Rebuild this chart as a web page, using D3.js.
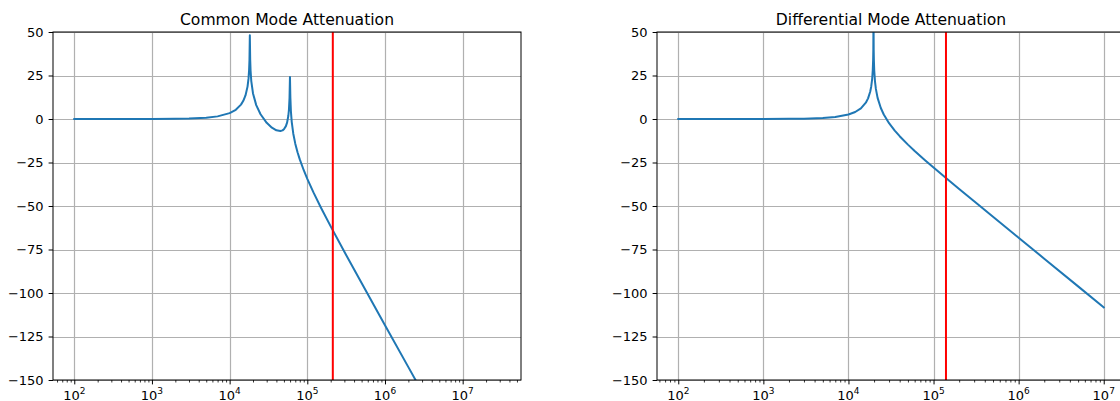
<!DOCTYPE html>
<html>
<head>
<meta charset="utf-8">
<script src="https://cdn.jsdelivr.net/npm/d3@7"></script>
<style>
  html, body { margin: 0; padding: 0; background: #fff; overflow: hidden; }
  svg { display: block; font-family: "DejaVu Sans", sans-serif; }
</style>
</head>
<body>
<svg id="chart" width="1120" height="401"></svg>
<script>
// Common mode filter response (frequency in Hz, attenuation in dB)
const cmFreq = [100, 300, 1000, 2000, 3000, 5000, 7000, 10000, 12000, 14000, 15000, 16000,
  17000, 17500, 17800, 18000, 18200, 18400, 18600, 19000, 20000, 22000, 25000, 30000,
  35000, 40000, 45000, 48000, 50000, 53000, 55000, 57000, 58000, 59000, 59800, 60500,
  61500, 63000, 66000, 70000, 75000, 80000, 90000, 100000, 120000, 150000, 200000,
  300000, 500000, 1000000, 2000000, 3000000, 10000000, 30000000];
const cmDb = [0.0, 0.0, 0.03, 0.12, 0.26, 0.74, 1.51, 3.37, 5.31, 8.27, 10.44, 13.53,
  18.62, 23.2, 28.0, 33.8, 48.1, 34.0, 27.9, 21.8, 14.7, 7.98, 2.71, -2.18,
  -4.97, -6.51, -6.9, -6.53, -5.89, -4.1, -1.96, 1.88, 5.31, 11.95, 24.1, 12.6,
  4.42, -1.63, -8.46, -14.16, -19.23, -23.21, -29.44, -34.4, -42.18, -50.98, -61.73,
  -76.32, -94.31, -118.5, -142.6, -156.7, -198.5, -236.7];

// Differential mode filter response
const dmFreq = [100, 1000, 2000, 3000, 5000, 7000, 10000, 12000, 14000, 16000, 17000,
  18000, 18500, 19000, 19300, 19500, 19600, 19700, 19800, 19900, 20100, 20500, 21000,
  22000, 24000, 26000, 30000, 35000, 40000, 50000, 60000, 80000, 100000, 140000,
  200000, 300000, 500000, 1000000, 2000000, 5000000, 10000000];
const dmDb = [0.0, 0.02, 0.09, 0.2, 0.58, 1.17, 2.59, 4.03, 6.11, 9.36, 11.86,
  15.64, 18.56, 23.12, 27.92, 33.89, 39.9, 62.0, 39.8, 33.8, 27.7, 21.63, 17.31,
  12.14, 6.3, 2.59, -2.41, -6.68, -9.89, -14.72, -18.36, -23.8, -27.88, -33.89,
  -40.18, -47.27, -56.17, -68.22, -80.26, -96.18, -108.22];

// Cut-off frequency markers
const cmCutoff = 2.13e5;
const dmCutoff = 1.4e5;

const yTicks = [50, 25, 0, -25, -50, -75, -100, -125, -150];
const yRange = [-150, 50];
const titles = ["Common Mode Attenuation", "Differential Mode Attenuation"];

const svg = d3.select("#chart");
const plotW = 468, plotH = 348, plotTop = 32;
const panels = [
  { title: titles[0], freq: cmFreq, db: cmDb, cutoff: cmCutoff, left: 53 },
  { title: titles[1], freq: dmFreq, db: dmDb, cutoff: dmCutoff, left: 657 }
];

panels.forEach((p, i) => {
  const g = svg.append("g").attr("transform", `translate(${p.left},${plotTop})`);

  // log x-domain with 5% margins, as in the plotting defaults
  const lo = Math.log10(d3.min(p.freq)), hi = Math.log10(d3.max(p.freq));
  const pad = (hi - lo) * 0.05;
  const x = d3.scaleLog().domain([10 ** (lo - pad), 10 ** (hi + pad)]).range([0, plotW]);
  const y = d3.scaleLinear().domain(yRange).range([plotH, 0]);

  const [d0, d1] = x.domain();
  const majors = d3.range(Math.ceil(Math.log10(d0)), Math.floor(Math.log10(d1)) + 1).map(e => 10 ** e);
  const minors = [];
  for (let e = Math.floor(Math.log10(d0)); e <= Math.ceil(Math.log10(d1)); e++) {
    for (let k = 2; k <= 9; k++) {
      const v = k * 10 ** e;
      if (v >= d0 && v <= d1) minors.push(v);
    }
  }

  const clipId = "clip" + i;
  g.append("clipPath").attr("id", clipId)
    .append("rect").attr("width", plotW).attr("height", plotH);

  // grid
  const grid = g.append("g").attr("stroke", "#b0b0b0").attr("stroke-width", 1.2);
  grid.selectAll("line.v").data(majors).join("line")
    .attr("x1", d => Math.round(x(d)) + 0.5).attr("x2", d => Math.round(x(d)) + 0.5)
    .attr("y1", 0).attr("y2", plotH);
  grid.selectAll("line.h").data(yTicks).join("line")
    .attr("y1", d => Math.round(y(d)) + 0.5).attr("y2", d => Math.round(y(d)) + 0.5)
    .attr("x1", 0).attr("x2", plotW);

  // response curve
  const pts = p.freq.map((f, j) => [f, p.db[j]]);
  g.append("path")
    .attr("clip-path", `url(#${clipId})`)
    .attr("d", d3.line().x(d => x(d[0])).y(d => y(d[1]))(pts))
    .attr("fill", "none").attr("stroke", "#1f77b4").attr("stroke-width", 2)
    .attr("stroke-linejoin", "round").attr("stroke-linecap", "square");

  // cut-off marker
  g.append("line")
    .attr("x1", x(p.cutoff)).attr("x2", x(p.cutoff))
    .attr("y1", 0).attr("y2", plotH)
    .attr("stroke", "#ff0000").attr("stroke-width", 2);

  // y axis
  const yAxis = g.append("g")
    .call(d3.axisLeft(y).tickValues(yTicks).tickSize(4.4).tickSizeOuter(0).tickPadding(5)
      .tickFormat(d => (d < 0 ? "\u2212" + Math.abs(d) : String(d))));
  yAxis.select(".domain").remove();
  yAxis.selectAll("text").attr("font-size", 13).attr("fill", "#000").attr("font-family", "DejaVu Sans");
  yAxis.selectAll("line").attr("stroke", "#000").attr("stroke-width", 1);

  // x axis: major and minor ticks
  const xAxis = g.append("g").attr("transform", `translate(0,${plotH})`)
    .call(d3.axisBottom(x).tickValues(majors).tickSize(4.4).tickSizeOuter(0).tickFormat(""));
  xAxis.select(".domain").remove();
  xAxis.selectAll("line").attr("stroke", "#000").attr("stroke-width", 1);
  const xMinor = g.append("g").attr("transform", `translate(0,${plotH})`)
    .call(d3.axisBottom(x).tickValues(minors).tickSize(2.5).tickSizeOuter(0).tickFormat(""));
  xMinor.select(".domain").remove();
  xMinor.selectAll("line").attr("stroke", "#000").attr("stroke-width", 0.8);

  // decade labels 10^n
  const labels = g.append("g").attr("font-size", 13).attr("fill", "#000");
  majors.forEach(v => {
    const e = Math.round(Math.log10(v));
    const t = labels.append("text")
      .attr("x", x(v)).attr("y", plotH + 19.5).attr("text-anchor", "middle");
    t.append("tspan").text("10");
    t.append("tspan").attr("font-size", 9).attr("dy", -5.4).text(String(e));
  });

  // frame
  g.append("rect").attr("x", 0).attr("y", 0).attr("width", plotW).attr("height", plotH)
    .attr("fill", "none").attr("stroke", "#000").attr("stroke-width", 1);

  // title
  g.append("text").attr("x", plotW / 2).attr("y", -7.5)
    .attr("text-anchor", "middle").attr("font-size", 15.6).attr("fill", "#000")
    .text(p.title);
});
</script>
</body>
</html>
